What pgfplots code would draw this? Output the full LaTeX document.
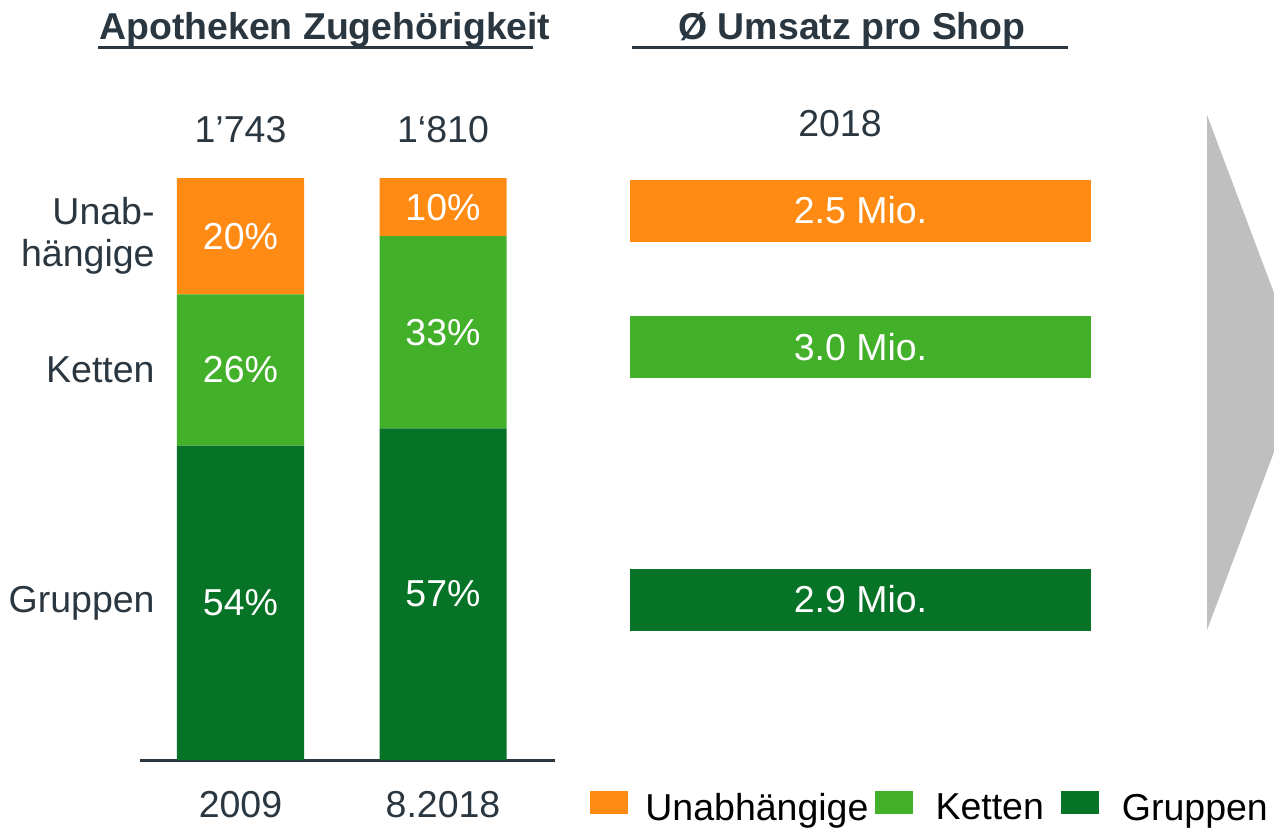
\documentclass[border=0pt]{standalone}
\usepackage{fontspec}
\setmainfont{Liberation Sans}
\usepackage{pgfplots}
\usepackage{pgfplotstable}
\pgfplotsset{compat=1.18}
\definecolor{unab}{RGB}{255,139,20}
\definecolor{ketten}{RGB}{67,176,42}
\definecolor{gruppen}{RGB}{6,115,38}
\definecolor{ink}{RGB}{42,54,64}
\definecolor{arrowgray}{RGB}{191,191,191}
\newcommand{\lbl}{\fontsize{18.75}{21}\selectfont}
\newcommand{\lblb}{\fontsize{18.7}{21}\selectfont\bfseries}

% Anteile der Apotheken (%)
\pgfplotstableread{
x  gruppen ketten unab
0  54      26     20
1  57      33     10
}\share
% Lage der Prozent-Beschriftungen (Mitte der Segmente)
\pgfplotstableread{
x  y     pct
0  27    54
0  67    26
0  90    20
1  28.5  57
1  73.5  33
1  95    10
}\pctlabels
% Anzahl Apotheken
\pgfplotstableread{
x  y       total
0  108.25  1’743
1  108.25  1‘810
}\totals

\begin{document}
\begin{tikzpicture}
\useasboundingbox (0,0) rectangle (637pt,413.5pt);

% Titel
\node[anchor=base, font=\lblb, text=ink, inner sep=0pt] at (162.5pt,393.5pt) {Apotheken Zugehörigkeit};
\draw[ink, line width=1.5pt] (49pt,389.5pt) -- (266.5pt,389.5pt);
\node[anchor=base, font=\lblb, text=ink, inner sep=0pt] at (426pt,393.5pt) {Ø Umsatz pro Shop};
\draw[ink, line width=1.5pt] (316pt,389.5pt) -- (534pt,389.5pt);

% grauer Pfeil rechts
\fill[arrowgray] (603.5pt,356pt) -- (637pt,267pt) -- (637pt,187.5pt) -- (603.5pt,98.5pt) -- cycle;

\begin{axis}[
  at={(70pt,33.5pt)}, anchor=south west,
  scale only axis, width=207.5pt, height=291pt,
  ybar stacked, bar width=63.5pt,
  xmin=-0.4963, xmax=1.5531, ymin=0, ymax=100,
  axis x line*=bottom, axis y line*=left,
  x axis line style={-, draw=ink, line width=1.5pt},
  y axis line style={draw=none},
  xtick={0,1}, xticklabels={2009, 8.2018},
  ytick={27,67,90}, yticklabels={Gruppen, Ketten, {Unab-\\hängige}},
  major tick length=0pt,
  tick style={draw=none},
  xticklabel style={anchor=center, yshift=-22.5pt, font=\lbl, text=ink},
  yticklabel style={anchor=east, align=right, inner sep=0pt, xshift=7.5pt, font=\lbl, text=ink},
  clip=false,
  legend columns=3,
  reverse legend,
  legend style={at={(1.0843,-0.110)}, anchor=south west, draw=none, fill=none,
    inner sep=0pt, nodes={inner sep=0pt, font=\lbl, text=black},
    /tikz/column 1/.style={column sep=8.5pt},
    /tikz/column 2/.style={column sep=3pt},
    /tikz/column 3/.style={column sep=11.5pt},
    /tikz/column 4/.style={column sep=8.5pt},
    /tikz/column 5/.style={column sep=11.5pt}},
  legend image code/.code={\fill[#1] (0pt,-2.5pt) rectangle (19pt,9pt);},
]
\addplot[fill=gruppen, draw=none] table[x=x, y=gruppen] {\share};
\addplot[fill=ketten, draw=none] table[x=x, y=ketten] {\share};
\addplot[fill=unab, draw=none] table[x=x, y=unab] {\share};
\legend{Gruppen, Ketten, Unabhängige}
\end{axis}

% Beschriftungen über den gestapelten Balken
\begin{axis}[
  at={(70pt,33.5pt)}, anchor=south west,
  scale only axis, width=207.5pt, height=291pt,
  xmin=-0.4963, xmax=1.5531, ymin=0, ymax=100,
  hide axis, clip=false,
]
\addplot[draw=none, point meta=explicit,
  nodes near coords={\pgfmathprintnumber[assume math mode=true]{\pgfplotspointmeta}\%},
  every node near coord/.append style={anchor=center, font=\lbl, text=white}]
  table[x=x, y=y, meta=pct] {\pctlabels};
\addplot[draw=none, point meta=explicit symbolic,
  nodes near coords,
  every node near coord/.append style={anchor=center, font=\lbl, text=ink}]
  table[x=x, y=y, meta=total] {\totals};
\end{axis}

% Umsatz pro Shop
\begin{axis}[
  at={(315pt,88.5pt)}, anchor=south west,
  scale only axis, width=230.5pt, height=250pt,
  xbar, bar width=31pt,
  xmin=0, xmax=1, ymin=150, ymax=650, y dir=reverse,
  enlargelimits=false,
  axis line style={draw=none}, xtick=\empty, ytick=\empty,
  clip=false,
  title={2018},
  title style={at={(0.5,1)}, anchor=center, yshift=7pt, xshift=-10.25pt, font=\lbl, text=ink},
  point meta=explicit,
  nodes near coords={\pgfmathprintnumber[fixed,fixed zerofill,precision=1,assume math mode=true]{\pgfplotspointmeta}~Mio.},
  every node near coord/.append style={anchor=center, xshift=-115.25pt, font=\lbl, text=white},
]
\addplot[fill=unab, draw=none, bar shift=0pt] coordinates {(1,210.5) [2.5]};
\addplot[fill=ketten, draw=none, bar shift=0pt] coordinates {(1,347) [3.0]};
\addplot[fill=gruppen, draw=none, bar shift=0pt] coordinates {(1,599.5) [2.9]};
\end{axis}
\end{tikzpicture}
\end{document}
